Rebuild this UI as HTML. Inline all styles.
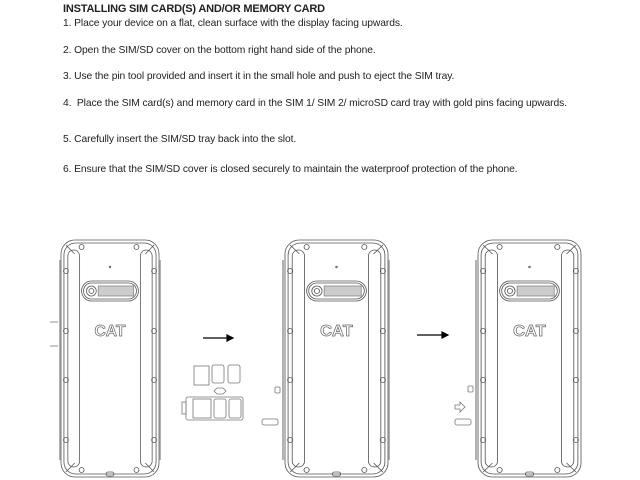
<!DOCTYPE html>
<html><head><meta charset="utf-8"><style>
body{margin:0;width:640px;height:480px;background:#fff;position:relative;overflow:hidden;font-family:"Liberation Sans",sans-serif;color:#222}
.t{position:absolute;left:63px;font-size:10.3px;white-space:nowrap;letter-spacing:-0.1px}
.h{position:absolute;left:63px;top:3px;font-size:11px;font-weight:bold;white-space:nowrap;letter-spacing:-0.2px}
svg{position:absolute;left:0;top:0}
</style></head><body>
<div class="h">INSTALLING SIM CARD(S) AND/OR MEMORY CARD</div>
<div class="t" style="top:18px">1. Place your device on a flat, clean surface with the display facing upwards.</div>
<div class="t" style="top:45px">2. Open the SIM/SD cover on the bottom right hand side of the phone.</div>
<div class="t" style="top:71px">3. Use the pin tool provided and insert it in the small hole and push to eject the SIM tray.</div>
<div class="t" style="top:98px">4.&nbsp; Place the SIM card(s) and memory card in the SIM 1/ SIM 2/ microSD card tray with gold pins facing upwards.</div>
<div class="t" style="top:134px">5. Carefully insert the SIM/SD tray back into the slot.</div>
<div class="t" style="top:164px">6. Ensure that the SIM/SD cover is closed securely to maintain the waterproof protection of the phone.</div>
<svg width="640" height="480" viewBox="0 0 640 480">
<defs>
<g id="ph" fill="none" stroke="#555" stroke-width="0.8">
<rect x="0" y="0" width="100" height="237" rx="14"/>
<rect x="3" y="3" width="94" height="231" rx="12"/>
<rect x="7" y="10" width="12" height="217" rx="6"/>
<rect x="81" y="10" width="12" height="217" rx="6"/>
<line x1="5" y1="5" x2="14" y2="14"/><line x1="95" y1="5" x2="86" y2="14"/>
<line x1="5" y1="232" x2="14" y2="223"/><line x1="95" y1="232" x2="86" y2="223"/>
<circle cx="21" cy="7" r="2.5"/><circle cx="77" cy="7" r="2.5"/>
<circle cx="21" cy="230" r="2.5"/><circle cx="77" cy="230" r="2.5"/>
<circle cx="5" cy="31" r="2.5"/><circle cx="5" cy="91" r="2.5"/><circle cx="5" cy="140" r="2.5"/><circle cx="5" cy="200" r="2.5"/>
<circle cx="95" cy="31" r="2.5"/><circle cx="95" cy="91" r="2.5"/><circle cx="95" cy="140" r="2.5"/><circle cx="95" cy="200" r="2.5"/>
<rect x="21" y="41" width="58" height="20" rx="10"/>
<rect x="23" y="43" width="54" height="16" rx="8"/>
<circle cx="31" cy="51" r="5"/><circle cx="31" cy="51" r="2.5"/>
<rect x="38" y="46" width="36" height="10" fill="#ccc" stroke="#888"/>
<circle cx="50" cy="27" r="0.8"/>
<rect x="46" y="232" width="8" height="4" rx="2"/>
<text x="50" y="96" font-family="Liberation Sans,sans-serif" font-size="16" font-weight="bold" text-anchor="middle" fill="#fff" stroke="#666" stroke-width="0.7">CAT</text>
</g>
</defs>
<use href="#ph" transform="translate(61,240) scale(0.98,1)"/>
<use href="#ph" transform="translate(285,240) scale(1.03,1)"/>
<use href="#ph" transform="translate(478,240) scale(1.03,1)"/>
<g stroke="#000" stroke-width="1.2" fill="#000">
<line x1="203" y1="338" x2="229" y2="338"/><path d="M227 335 L233 338 L227 341Z"/>
<line x1="417" y1="335" x2="444" y2="335"/><path d="M442 332 L448 335 L442 338Z"/>
</g>
<g fill="none" stroke="#777" stroke-width="0.8">
<rect x="194" y="366" width="15" height="19"/><rect x="212" y="365" width="12" height="18" rx="2"/><rect x="228" y="365" width="12" height="18" rx="2"/>
<path d="M217 388 h6 l3 3 l-3 3 h-6 l-3 -3z"/>
<rect x="186" y="397" width="57" height="23" rx="2"/><rect x="193" y="399" width="18" height="19"/><rect x="214" y="399" width="12" height="19" rx="2"/><rect x="229" y="399" width="12" height="19" rx="2"/>
<rect x="182" y="402" width="4" height="12"/>
<rect x="275" y="387" width="5" height="6" rx="1"/><rect x="262" y="419" width="16" height="6" rx="2"/>
<rect x="468" y="386" width="5" height="6" rx="1"/><rect x="455" y="419" width="16" height="6" rx="2"/>
<path d="M455 405 h5 v-3 l5 5 l-5 5 v-3 h-5z"/>
<line x1="50" y1="322" x2="58" y2="322"/><line x1="50" y1="346" x2="58" y2="346"/>
<line x1="60" y1="260" x2="60" y2="460" stroke-width="1.5" stroke="#999"/>
<line x1="283" y1="260" x2="283" y2="460" stroke-width="1.5" stroke="#999"/>
<line x1="476" y1="260" x2="476" y2="460" stroke-width="1.5" stroke="#999"/>
<line x1="160" y1="260" x2="160" y2="460" stroke-width="1.5" stroke="#999"/>
<line x1="389" y1="260" x2="389" y2="460" stroke-width="1.5" stroke="#999"/>
</g>
</svg>
</body></html>
